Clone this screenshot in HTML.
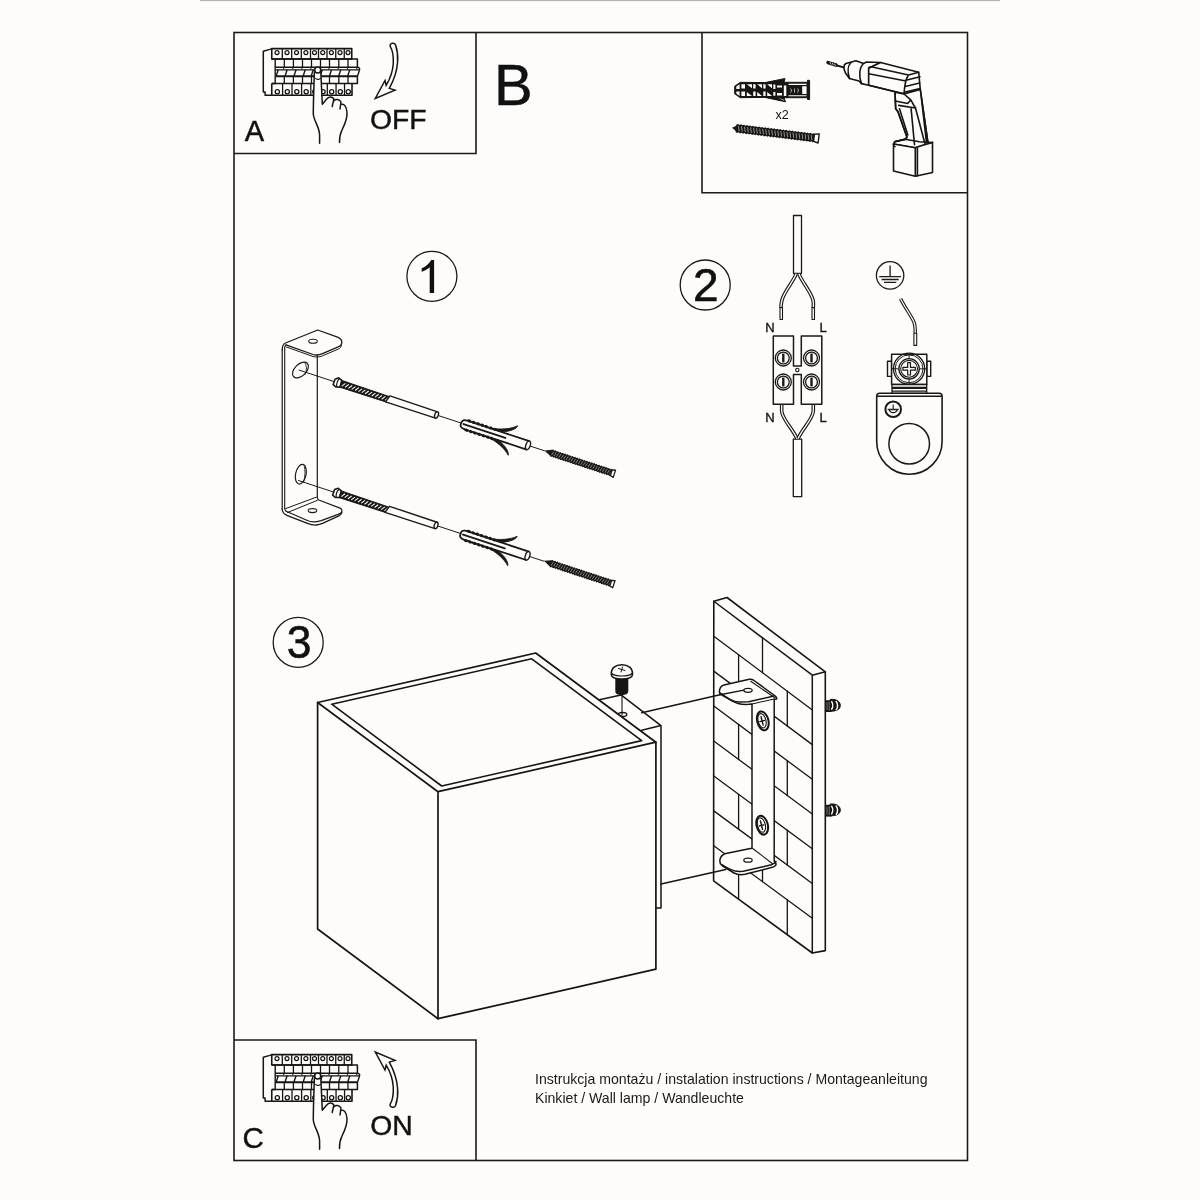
<!DOCTYPE html>
<html><head><meta charset="utf-8"><title>Wall lamp instructions</title>
<style>html,body{margin:0;padding:0;background:#fdfcfa;}svg{display:block;will-change:transform}</style></head>
<body><svg width="1200" height="1200" viewBox="0 0 1200 1200">
<rect width="1200" height="1200" fill="#fdfcfa"/>
<rect x="200" y="0" width="800" height="1.1" fill="#b3b2b0"/>
<g fill="none" stroke="#1c1b19" stroke-width="1.6">
<rect x="234" y="32.5" width="733.5" height="1128"/>
<path d="M234 153.5H476V32.5"/>
<path d="M702 32.5V192.8H967.5"/>
<path d="M234 1040H476V1160.5"/>
</g>
<g font-family="Liberation Sans, sans-serif" fill="#111" stroke="#111" stroke-width="0.45">
<text x="244.8" y="140.7" font-size="29">A</text>
<text x="242.6" y="1147.6" font-size="29.5">C</text>
<text x="370" y="128.6" font-size="28.3">OFF</text>
<text x="370.2" y="1134.6" font-size="28.3">ON</text>
<text x="494" y="104.5" font-size="58">B</text>
</g>
<g fill="none" stroke="#1a1a1a" stroke-width="1.3">
<circle cx="431.9" cy="276.3" r="25"/>
<circle cx="705.2" cy="285" r="25"/>
<circle cx="298.2" cy="642.4" r="25"/>
</g>
<path fill="#111" d="M434.1 259.9 V292.9 H429.7 V267.2 C427 269.5 424.5 270.8 421.7 271.8 V268.3 C425.5 266.8 429 263.8 431.2 259.9 Z"/>
<g font-family="Liberation Sans, sans-serif" fill="#111" stroke="#111" stroke-width="0.6">
<text x="693" y="301" font-size="46">2</text>
<text x="286" y="658.5" font-size="47" transform="translate(298.7 0) scale(0.945 1) translate(-298.7 0)">3</text>
</g>
<text font-family="Liberation Sans, sans-serif" fill="#111" x="775.5" y="118.7" font-size="12.5">x2</text>
<g font-family="Liberation Sans, sans-serif" fill="#1a1a1a" font-size="14.1">
<text x="535" y="1084.4">Instrukcja montażu / instalation instructions / Montageanleitung</text>
<text x="535" y="1102.5">Kinkiet / Wall lamp / Wandleuchte</text>
</g>
<g transform="translate(0,0)" fill="none" stroke="#161514" stroke-linejoin="round">
<path stroke-width="1.5" d="M271.75 48.6 L269.9 49.4 L263.3 51.3 V92.1 H265.1 V95.3 H271.75"/>
<path stroke-width="1.6" d="M271.75 48.6 H351.75 V59 H271.75 Z"/>
<path stroke-width="1.3" d="M282.3 48.6 V59"/>
<path stroke-width="1.3" d="M291.7 48.6 V59"/>
<path stroke-width="1.3" d="M301.3 48.6 V59"/>
<path stroke-width="1.3" d="M310.5 48.6 V59"/>
<path stroke-width="1.3" d="M318.5 48.6 V59"/>
<path stroke-width="1.3" d="M327 48.6 V59"/>
<path stroke-width="1.3" d="M335.75 48.6 V59"/>
<path stroke-width="1.3" d="M344.25 48.6 V59"/>
<circle stroke-width="1.2" cx="277.02" cy="52.6" r="2"/>
<circle stroke-width="1.2" cx="287.00" cy="52.6" r="2"/>
<circle stroke-width="1.2" cx="296.50" cy="52.6" r="2"/>
<circle stroke-width="1.2" cx="305.90" cy="52.6" r="2"/>
<circle stroke-width="1.2" cx="314.50" cy="52.6" r="2"/>
<circle stroke-width="1.2" cx="322.75" cy="52.6" r="2"/>
<circle stroke-width="1.2" cx="331.38" cy="52.6" r="2"/>
<circle stroke-width="1.2" cx="340.00" cy="52.6" r="2"/>
<circle stroke-width="1.2" cx="348.00" cy="52.6" r="2"/>
<path stroke-width="1.4" d="M271.75 59 H275.2 V83.5 H271.75"/>
<path stroke-width="1.5" d="M275.2 59 H357.4 V67.2 H275.2"/>
<path stroke-width="1.3" d="M284.3 59 V67.2"/>
<path stroke-width="1.3" d="M293.4 59 V67.2"/>
<path stroke-width="1.3" d="M302.5 59 V67.2"/>
<path stroke-width="1.3" d="M311.5 59 V67.2"/>
<path stroke-width="1.3" d="M320.5 59 V67.2"/>
<path stroke-width="1.3" d="M329.5 59 V67.2"/>
<path stroke-width="1.3" d="M338.8 59 V67.2"/>
<path stroke-width="1.3" d="M348 59 V67.2"/>
<path stroke-width="1.3" d="M275.5 69.8 H359.5"/>
<path stroke-width="2" d="M275.5 76.3 H357.4"/>
<path stroke-width="1.4" d="M357.4 67.2 C359.5 67.5 360 68.5 359.5 70 L357.5 76.3"/>
<path stroke-width="1.4" d="M278.2 69.8 L276.20 76"/>
<path stroke-width="1.4" d="M287.1 69.8 L285.10 76"/>
<path stroke-width="1.4" d="M296 69.8 L294.00 76"/>
<path stroke-width="1.4" d="M305.2 69.8 L303.20 76"/>
<path stroke-width="1.4" d="M313.25 69.8 L311.25 76"/>
<path stroke-width="1.4" d="M322.25 69.8 L320.25 76"/>
<path stroke-width="1.4" d="M331.5 69.8 L329.50 76"/>
<path stroke-width="1.4" d="M340.75 69.8 L338.75 76"/>
<path stroke-width="1.4" d="M349.75 69.8 L347.75 76"/>
<path stroke-width="1" d="M283.70 67.6 V69.4"/>
<path stroke-width="1" d="M292.80 67.6 V69.4"/>
<path stroke-width="1" d="M301.90 67.6 V69.4"/>
<path stroke-width="1" d="M310.90 67.6 V69.4"/>
<path stroke-width="1" d="M319.90 67.6 V69.4"/>
<path stroke-width="1" d="M328.90 67.6 V69.4"/>
<path stroke-width="1" d="M338.20 67.6 V69.4"/>
<path stroke-width="1" d="M347.40 67.6 V69.4"/>
<path stroke-width="1" d="M356.80 67.6 V69.4"/>
<path stroke-width="1.5" d="M357.4 76.3 V83.5 H271.75"/>
<path stroke-width="1.3" d="M284.3 76.3 V83.5"/>
<path stroke-width="1.3" d="M293.4 76.3 V83.5"/>
<path stroke-width="1.3" d="M302.5 76.3 V83.5"/>
<path stroke-width="1.3" d="M311.5 76.3 V83.5"/>
<path stroke-width="1.3" d="M320.5 76.3 V83.5"/>
<path stroke-width="1.3" d="M329.5 76.3 V83.5"/>
<path stroke-width="1.3" d="M338.8 76.3 V83.5"/>
<path stroke-width="1.3" d="M348 76.3 V83.5"/>
<path stroke-width="1.6" d="M271.75 83.5 V95.3 H352 V83.5"/>
<path stroke-width="1.3" d="M282.60 83.5 V95.3"/>
<path stroke-width="1.3" d="M292.00 83.5 V95.3"/>
<path stroke-width="1.3" d="M301.60 83.5 V95.3"/>
<path stroke-width="1.3" d="M310.80 83.5 V95.3"/>
<path stroke-width="1.3" d="M318.80 83.5 V95.3"/>
<path stroke-width="1.3" d="M327.30 83.5 V95.3"/>
<path stroke-width="1.3" d="M336.05 83.5 V95.3"/>
<path stroke-width="1.3" d="M344.55 83.5 V95.3"/>
<circle stroke-width="1.3" cx="277.32" cy="91.7" r="2.1"/>
<circle stroke-width="1.3" cx="287.30" cy="91.7" r="2.1"/>
<circle stroke-width="1.3" cx="296.80" cy="91.7" r="2.1"/>
<circle stroke-width="1.3" cx="306.20" cy="91.7" r="2.1"/>
<circle stroke-width="1.3" cx="314.80" cy="91.7" r="2.1"/>
<circle stroke-width="1.3" cx="323.05" cy="91.7" r="2.1"/>
<circle stroke-width="1.3" cx="331.68" cy="91.7" r="2.1"/>
<circle stroke-width="1.3" cx="340.30" cy="91.7" r="2.1"/>
<circle stroke-width="1.3" cx="348.30" cy="91.7" r="2.1"/>
</g>
<g transform="translate(0,0)" stroke="#161514" stroke-width="1.5" stroke-linecap="round" stroke-linejoin="round">
<path fill="#fdfcfa" stroke="none" d="M314.4 72 L313.3 114 C314.5 121 319 128 319.6 143.3 L339.5 142.5 C339.5 136 344 128 347 120 L347 112.5 C346 106 343 104.5 341 104 L334 99 C331 96 328 97 326.7 99 L322.3 104 L320.8 72 Z"/>
<path fill="none" d="M314.4 72 C314 85 313.3 100 313.3 114 C313.8 121 319.5 127 319.6 135 V143.3"/>
<path fill="none" d="M320.8 72 L322.3 104.3 L326.7 99 C328.5 96.5 332 96 333.9 99 L332.2 106.5"/>
<path fill="none" d="M334.2 100.6 C335.5 99 339.5 99 341 102 L340 109"/>
<path fill="none" d="M341.8 104.3 C344 104 346.5 106 347 112.5 C347.5 119 345 124 342 130 C340 134 339.4 138 339.5 142.5"/>
<circle fill="#fdfcfa" stroke-width="1.5" cx="317.7" cy="70.1" r="3"/>
<path fill="none" stroke-width="1.1" d="M315.6 78.3 C317 79.6 319 79.6 320.4 78.3"/>
</g>
<path fill="#fdfcfa" stroke="#161514" stroke-width="1.5" stroke-linejoin="miter" d="M392.4 43.3 C394.2 43.1 395.2 44 395.6 45 C397.6 51 398 57 397.6 62 C397 71 394.5 79 389.3 88.4 L395 90.1 L375.3 98.4 L385 80.5 L386.2 85.3 C390 79 392.8 71 393.3 63.5 C393.6 56 392.5 50 390.2 46.4 C389.6 44.8 390.6 43.5 392.4 43.3 Z"/>
<g transform="translate(0,1006)" fill="none" stroke="#161514" stroke-linejoin="round">
<path stroke-width="1.5" d="M271.75 48.6 L269.9 49.4 L263.3 51.3 V92.1 H265.1 V95.3 H271.75"/>
<path stroke-width="1.6" d="M271.75 48.6 H351.75 V59 H271.75 Z"/>
<path stroke-width="1.3" d="M282.3 48.6 V59"/>
<path stroke-width="1.3" d="M291.7 48.6 V59"/>
<path stroke-width="1.3" d="M301.3 48.6 V59"/>
<path stroke-width="1.3" d="M310.5 48.6 V59"/>
<path stroke-width="1.3" d="M318.5 48.6 V59"/>
<path stroke-width="1.3" d="M327 48.6 V59"/>
<path stroke-width="1.3" d="M335.75 48.6 V59"/>
<path stroke-width="1.3" d="M344.25 48.6 V59"/>
<circle stroke-width="1.2" cx="277.02" cy="52.6" r="2"/>
<circle stroke-width="1.2" cx="287.00" cy="52.6" r="2"/>
<circle stroke-width="1.2" cx="296.50" cy="52.6" r="2"/>
<circle stroke-width="1.2" cx="305.90" cy="52.6" r="2"/>
<circle stroke-width="1.2" cx="314.50" cy="52.6" r="2"/>
<circle stroke-width="1.2" cx="322.75" cy="52.6" r="2"/>
<circle stroke-width="1.2" cx="331.38" cy="52.6" r="2"/>
<circle stroke-width="1.2" cx="340.00" cy="52.6" r="2"/>
<circle stroke-width="1.2" cx="348.00" cy="52.6" r="2"/>
<path stroke-width="1.4" d="M271.75 59 H275.2 V83.5 H271.75"/>
<path stroke-width="1.5" d="M275.2 59 H357.4 V67.2 H275.2"/>
<path stroke-width="1.3" d="M284.3 59 V67.2"/>
<path stroke-width="1.3" d="M293.4 59 V67.2"/>
<path stroke-width="1.3" d="M302.5 59 V67.2"/>
<path stroke-width="1.3" d="M311.5 59 V67.2"/>
<path stroke-width="1.3" d="M320.5 59 V67.2"/>
<path stroke-width="1.3" d="M329.5 59 V67.2"/>
<path stroke-width="1.3" d="M338.8 59 V67.2"/>
<path stroke-width="1.3" d="M348 59 V67.2"/>
<path stroke-width="1.3" d="M275.5 69.8 H359.5"/>
<path stroke-width="2" d="M275.5 76.3 H357.4"/>
<path stroke-width="1.4" d="M357.4 67.2 C359.5 67.5 360 68.5 359.5 70 L357.5 76.3"/>
<path stroke-width="1.4" d="M278.2 69.8 L276.20 76"/>
<path stroke-width="1.4" d="M287.1 69.8 L285.10 76"/>
<path stroke-width="1.4" d="M296 69.8 L294.00 76"/>
<path stroke-width="1.4" d="M305.2 69.8 L303.20 76"/>
<path stroke-width="1.4" d="M313.25 69.8 L311.25 76"/>
<path stroke-width="1.4" d="M322.25 69.8 L320.25 76"/>
<path stroke-width="1.4" d="M331.5 69.8 L329.50 76"/>
<path stroke-width="1.4" d="M340.75 69.8 L338.75 76"/>
<path stroke-width="1.4" d="M349.75 69.8 L347.75 76"/>
<path stroke-width="1" d="M283.70 67.6 V69.4"/>
<path stroke-width="1" d="M292.80 67.6 V69.4"/>
<path stroke-width="1" d="M301.90 67.6 V69.4"/>
<path stroke-width="1" d="M310.90 67.6 V69.4"/>
<path stroke-width="1" d="M319.90 67.6 V69.4"/>
<path stroke-width="1" d="M328.90 67.6 V69.4"/>
<path stroke-width="1" d="M338.20 67.6 V69.4"/>
<path stroke-width="1" d="M347.40 67.6 V69.4"/>
<path stroke-width="1" d="M356.80 67.6 V69.4"/>
<path stroke-width="1.5" d="M357.4 76.3 V83.5 H271.75"/>
<path stroke-width="1.3" d="M284.3 76.3 V83.5"/>
<path stroke-width="1.3" d="M293.4 76.3 V83.5"/>
<path stroke-width="1.3" d="M302.5 76.3 V83.5"/>
<path stroke-width="1.3" d="M311.5 76.3 V83.5"/>
<path stroke-width="1.3" d="M320.5 76.3 V83.5"/>
<path stroke-width="1.3" d="M329.5 76.3 V83.5"/>
<path stroke-width="1.3" d="M338.8 76.3 V83.5"/>
<path stroke-width="1.3" d="M348 76.3 V83.5"/>
<path stroke-width="1.6" d="M271.75 83.5 V95.3 H352 V83.5"/>
<path stroke-width="1.3" d="M282.60 83.5 V95.3"/>
<path stroke-width="1.3" d="M292.00 83.5 V95.3"/>
<path stroke-width="1.3" d="M301.60 83.5 V95.3"/>
<path stroke-width="1.3" d="M310.80 83.5 V95.3"/>
<path stroke-width="1.3" d="M318.80 83.5 V95.3"/>
<path stroke-width="1.3" d="M327.30 83.5 V95.3"/>
<path stroke-width="1.3" d="M336.05 83.5 V95.3"/>
<path stroke-width="1.3" d="M344.55 83.5 V95.3"/>
<circle stroke-width="1.3" cx="277.32" cy="91.7" r="2.1"/>
<circle stroke-width="1.3" cx="287.30" cy="91.7" r="2.1"/>
<circle stroke-width="1.3" cx="296.80" cy="91.7" r="2.1"/>
<circle stroke-width="1.3" cx="306.20" cy="91.7" r="2.1"/>
<circle stroke-width="1.3" cx="314.80" cy="91.7" r="2.1"/>
<circle stroke-width="1.3" cx="323.05" cy="91.7" r="2.1"/>
<circle stroke-width="1.3" cx="331.68" cy="91.7" r="2.1"/>
<circle stroke-width="1.3" cx="340.30" cy="91.7" r="2.1"/>
<circle stroke-width="1.3" cx="348.30" cy="91.7" r="2.1"/>
</g>
<g transform="translate(0,1006)" stroke="#161514" stroke-width="1.5" stroke-linecap="round" stroke-linejoin="round">
<path fill="#fdfcfa" stroke="none" d="M314.4 72 L313.3 114 C314.5 121 319 128 319.6 143.3 L339.5 142.5 C339.5 136 344 128 347 120 L347 112.5 C346 106 343 104.5 341 104 L334 99 C331 96 328 97 326.7 99 L322.3 104 L320.8 72 Z"/>
<path fill="none" d="M314.4 72 C314 85 313.3 100 313.3 114 C313.8 121 319.5 127 319.6 135 V143.3"/>
<path fill="none" d="M320.8 72 L322.3 104.3 L326.7 99 C328.5 96.5 332 96 333.9 99 L332.2 106.5"/>
<path fill="none" d="M334.2 100.6 C335.5 99 339.5 99 341 102 L340 109"/>
<path fill="none" d="M341.8 104.3 C344 104 346.5 106 347 112.5 C347.5 119 345 124 342 130 C340 134 339.4 138 339.5 142.5"/>
<circle fill="#fdfcfa" stroke-width="1.5" cx="317.7" cy="70.1" r="3"/>
<path fill="none" stroke-width="1.1" d="M315.6 78.3 C317 79.6 319 79.6 320.4 78.3"/>
</g>
<g transform="translate(0,1150.5) scale(1,-1)"><path fill="#fdfcfa" stroke="#161514" stroke-width="1.5" stroke-linejoin="miter" d="M392.4 43.3 C394.2 43.1 395.2 44 395.6 45 C397.6 51 398 57 397.6 62 C397 71 394.5 79 389.3 88.4 L395 90.1 L375.3 98.4 L385 80.5 L386.2 85.3 C390 79 392.8 71 393.3 63.5 C393.6 56 392.5 50 390.2 46.4 C389.6 44.8 390.6 43.5 392.4 43.3 Z"/></g>
<path fill="#161514" stroke="#161514" stroke-width="1" stroke-linejoin="round" d="M740.3 82.3 L765 82.6 L785 78.5 L784 82.3 L807.5 82.3 V80.3 H809.6 V99.5 H807.5 V97.7 L784 97.7 L785.5 101.8 L765 97.4 L740.3 97.7 L734.7 93.8 V86.2 Z"/>
<path fill="#fdfcfa" d="M736.3 86.6 L739.6 84.2 V88.9 H736.3 Z M736.3 91.4 H739.6 V96 L736.3 93.5 Z"/>
<path fill="#fdfcfa" d="M741.4 84.2 H745.0 V88.6 H741.4 Z M741.4 91.6 H745.0 V95.9 H741.4 Z"/>
<path fill="#fdfcfa" d="M753.2 84.2 H755.6 V88.6 H753.2 Z M753.2 91.6 H755.6 V95.9 H753.2 Z"/>
<path fill="#fdfcfa" d="M763.3 84.2 H765.6 V88.6 H763.3 Z M763.3 91.6 H765.6 V95.9 H763.3 Z"/>
<path fill="#fdfcfa" d="M746.8 84.3 H752.0 V88.3 Z M746.8 92.0 L752.0 95.9 H746.8 Z"/>
<path fill="#fdfcfa" d="M757.2 84.3 H762.0 V88.3 Z M757.2 92.0 L762.0 95.9 H757.2 Z"/>
<path fill="#fdfcfa" d="M767.2 84.3 H772.0 V88.3 Z M767.2 92.0 L772.0 95.9 H767.2 Z"/>
<path fill="#fdfcfa" d="M773.3 84.6 H775.4 V89 H773.3 Z M773.3 92 H775.4 V95.8 H773.3 Z M777 85.6 H782 V87.6 H777 Z M777 93 H782 V95.6 H777 Z M783.8 85.6 H786.3 V95.9 H783.8 Z"/>
<path fill="#fdfcfa" d="M788.5 83.8 H806.5 V84.9 H788.5 Z M788.5 95.3 H806.5 V96.3 H788.5 Z M802.2 86.3 H806.6 V94 H802.2 Z"/>
<path fill="#fdfcfa" d="M790.3 87.8 C792.0999999999999 89 792.0999999999999 92 790.3 93.4 C791.0999999999999 92 791.0999999999999 89 790.3 87.8 Z"/>
<path fill="#fdfcfa" d="M793.8 87.8 C795.5999999999999 89 795.5999999999999 92 793.8 93.4 C794.5999999999999 92 794.5999999999999 89 793.8 87.8 Z"/>
<path fill="#fdfcfa" d="M797.3 87.8 C799.0999999999999 89 799.0999999999999 92 797.3 93.4 C798.0999999999999 92 798.0999999999999 89 797.3 87.8 Z"/>
<path fill="#fdfcfa" stroke="none" d="M778 97.8 L784.3 100.8 L783.8 99.8 L777.5 97.6 Z"/>
<g transform="translate(732,127.8) rotate(7)"><path fill="#161514" d="M0 0 L5 -3.2 L5 3.2 Z"/><path fill="#161514" d="M4 -3.7 L5.50 -4.6 L7.05 -3.7 L8.55 -4.6 L10.10 -3.7 L11.60 -4.6 L13.15 -3.7 L14.65 -4.6 L16.20 -3.7 L17.70 -4.6 L19.25 -3.7 L20.75 -4.6 L22.30 -3.7 L23.80 -4.6 L25.35 -3.7 L26.85 -4.6 L28.40 -3.7 L29.90 -4.6 L31.45 -3.7 L32.95 -4.6 L34.50 -3.7 L36.00 -4.6 L37.55 -3.7 L39.05 -4.6 L40.60 -3.7 L42.10 -4.6 L43.65 -3.7 L45.15 -4.6 L46.70 -3.7 L48.20 -4.6 L49.75 -3.7 L51.25 -4.6 L52.80 -3.7 L54.30 -4.6 L55.85 -3.7 L57.35 -4.6 L58.90 -3.7 L60.40 -4.6 L61.95 -3.7 L63.45 -4.6 L65.00 -3.7 L66.50 -4.6 L68.05 -3.7 L69.55 -4.6 L71.10 -3.7 L72.60 -4.6 L74.15 -3.7 L75.65 -4.6 L77.20 -3.7 L78.70 -4.6 L80.25 -3.7 L81.75 -4.6 L83.30 -3.7 L83.3 -3.7 L83.3 3.7 L81.80 4.6 L80.25 3.7 L78.75 4.6 L77.20 3.7 L75.70 4.6 L74.15 3.7 L72.65 4.6 L71.10 3.7 L69.60 4.6 L68.05 3.7 L66.55 4.6 L65.00 3.7 L63.50 4.6 L61.95 3.7 L60.45 4.6 L58.90 3.7 L57.40 4.6 L55.85 3.7 L54.35 4.6 L52.80 3.7 L51.30 4.6 L49.75 3.7 L48.25 4.6 L46.70 3.7 L45.20 4.6 L43.65 3.7 L42.15 4.6 L40.60 3.7 L39.10 4.6 L37.55 3.7 L36.05 4.6 L34.50 3.7 L33.00 4.6 L31.45 3.7 L29.95 4.6 L28.40 3.7 L26.90 4.6 L25.35 3.7 L23.85 4.6 L22.30 3.7 L20.80 4.6 L19.25 3.7 L17.75 4.6 L16.20 3.7 L14.70 4.6 L13.15 3.7 L11.65 4.6 L10.10 3.7 L8.60 4.6 L7.05 3.7 L5.55 4.6 L4.00 3.7 Z"/><path stroke="#fdfcfa" stroke-opacity="0.8" stroke-width="0.65" d="M6.20 -2.6 L7.60 2.6"/><path stroke="#fdfcfa" stroke-opacity="0.8" stroke-width="0.65" d="M9.25 -2.6 L10.65 2.6"/><path stroke="#fdfcfa" stroke-opacity="0.8" stroke-width="0.65" d="M12.30 -2.6 L13.70 2.6"/><path stroke="#fdfcfa" stroke-opacity="0.8" stroke-width="0.65" d="M15.35 -2.6 L16.75 2.6"/><path stroke="#fdfcfa" stroke-opacity="0.8" stroke-width="0.65" d="M18.40 -2.6 L19.80 2.6"/><path stroke="#fdfcfa" stroke-opacity="0.8" stroke-width="0.65" d="M21.45 -2.6 L22.85 2.6"/><path stroke="#fdfcfa" stroke-opacity="0.8" stroke-width="0.65" d="M24.50 -2.6 L25.90 2.6"/><path stroke="#fdfcfa" stroke-opacity="0.8" stroke-width="0.65" d="M27.55 -2.6 L28.95 2.6"/><path stroke="#fdfcfa" stroke-opacity="0.8" stroke-width="0.65" d="M30.60 -2.6 L32.00 2.6"/><path stroke="#fdfcfa" stroke-opacity="0.8" stroke-width="0.65" d="M33.65 -2.6 L35.05 2.6"/><path stroke="#fdfcfa" stroke-opacity="0.8" stroke-width="0.65" d="M36.70 -2.6 L38.10 2.6"/><path stroke="#fdfcfa" stroke-opacity="0.8" stroke-width="0.65" d="M39.75 -2.6 L41.15 2.6"/><path stroke="#fdfcfa" stroke-opacity="0.8" stroke-width="0.65" d="M42.80 -2.6 L44.20 2.6"/><path stroke="#fdfcfa" stroke-opacity="0.8" stroke-width="0.65" d="M45.85 -2.6 L47.25 2.6"/><path stroke="#fdfcfa" stroke-opacity="0.8" stroke-width="0.65" d="M48.90 -2.6 L50.30 2.6"/><path stroke="#fdfcfa" stroke-opacity="0.8" stroke-width="0.65" d="M51.95 -2.6 L53.35 2.6"/><path stroke="#fdfcfa" stroke-opacity="0.8" stroke-width="0.65" d="M55.00 -2.6 L56.40 2.6"/><path stroke="#fdfcfa" stroke-opacity="0.8" stroke-width="0.65" d="M58.05 -2.6 L59.45 2.6"/><path stroke="#fdfcfa" stroke-opacity="0.8" stroke-width="0.65" d="M61.10 -2.6 L62.50 2.6"/><path stroke="#fdfcfa" stroke-opacity="0.8" stroke-width="0.65" d="M64.15 -2.6 L65.55 2.6"/><path stroke="#fdfcfa" stroke-opacity="0.8" stroke-width="0.65" d="M67.20 -2.6 L68.60 2.6"/><path stroke="#fdfcfa" stroke-opacity="0.8" stroke-width="0.65" d="M70.25 -2.6 L71.65 2.6"/><path stroke="#fdfcfa" stroke-opacity="0.8" stroke-width="0.65" d="M73.30 -2.6 L74.70 2.6"/><path stroke="#fdfcfa" stroke-opacity="0.8" stroke-width="0.65" d="M76.35 -2.6 L77.75 2.6"/><path stroke="#fdfcfa" stroke-opacity="0.8" stroke-width="0.65" d="M79.40 -2.6 L80.80 2.6"/><path stroke="#fdfcfa" stroke-opacity="0.8" stroke-width="0.65" d="M82.45 -2.6 L83.85 2.6"/><path fill="#fdfcfa" stroke="#161514" stroke-width="1.4" stroke-linejoin="round" d="M82.6 -3.6 L87.3 -4.6 V4.6 L82.6 3.6 Z"/></g>
<g fill="none" stroke="#161514" stroke-width="1.6" stroke-linejoin="round" stroke-linecap="round">
<path stroke-width="3.4" d="M828 62.6 L836 65"/>
<path stroke-width="2" d="M836 65.2 L844.5 67.6"/>
<path stroke="#fdfcfa" stroke-width="0.7" d="M830 62.5 L831 64.2 M832.3 63.2 L833.3 64.9 M834.5 63.9 L835.4 65.6"/>
<path fill="#fdfcfa" d="M844 69 L844.3 64.8 L846 63.5 L856 60.75 L863.5 63.5 L866.5 62 L880.5 62.5 L868.7 68.3 V85.2 L861.5 83.6 L859 81 L849.5 78.5 L845.5 73 Z"/>
<path d="M851 62.5 C847.8 65.5 847.3 72 849.5 78.5"/>
<path d="M863.5 63.5 C859.3 67.5 858.5 76 861.5 83.6"/>
<path fill="#fdfcfa" d="M868.7 68.3 L880.5 62.5 L918.7 72.3 L920.3 89.5 L904 94 L868.7 85.2 Z"/>
<path d="M868.8 68.3 C869 67.3 869.8 66.8 871 66.8 L908.5 75 L918.7 72.3 M868.8 73.7 L904.5 80.8 M868.8 85.2 L904 93.8 M908.5 75 C905.5 79 904.5 86 904 94 M905 80.5 L920 76.8 M905.3 86.5 L919.6 83 M904.2 92.2 L920 88.6"/>
<path fill="#fdfcfa" d="M904 94 L895 92.3 L895.7 108.7 L898 111.8 L907 137.3 L904.8 139.4 L894.6 141.8 L893.5 144 L915.3 147.8 L932.5 142.5 L928 143.2 L920.3 89.5 Z"/>
<path d="M895 92.3 L895.7 108.7 L898 111.8 L907 137.3 L904.8 139.4 L894.6 141.8"/>
<path d="M899.5 108.7 L907.8 135 M911.1 108.7 L914.5 144.7 M915.3 107.3 L925 144 M920.3 89.5 L928 143.2 M921.3 97.5 L926.5 142.5"/>
<path d="M898.7 105.4 L915.3 108 L910.8 99.8 L907.7 103.5 L895.2 101 M904 94 L910.8 99.8"/>
<path fill="#fdfcfa" d="M893.5 144 V171 L915.3 176.3 L932.5 172.5 V142.5 L922 145.5 L915.3 147.8 Z"/>
<path d="M894.6 141.8 L904.8 139.3 L919.5 141.8 L932.5 142.5 M915.3 147.8 V176.3 M917.4 148.3 V176 M893.5 144 C893.5 146 894 146.5 895 146.7"/>
</g>
<g fill="none" stroke="#1a1918" stroke-linejoin="round" stroke-linecap="round">
<path stroke-width="1.2" d="M282.2 350 V509"/>
<path stroke-width="1.1" d="M284.7 347.5 V508.5"/>
<path stroke-width="1.2" d="M317.3 355.5 V497.5"/>
<path stroke-width="1.3" d="M282.2 350 C282.2 346 283 344 285.5 343 L317.7 330 L337.5 337.2 C341 338.6 342.3 340.5 341.7 343.3 C341.3 345 340.5 346 338.8 346.6 L322.5 353.7 C319 355.2 316 355.4 313 354.5 L286 344.8"/>
<path stroke-width="1.1" d="M284.7 347.5 C284.8 346.5 285.2 345.5 286 344.8"/>
<path stroke-width="1" d="M341.5 345 C341 347.5 340 348.5 338.5 349 L322.5 355.8 C319 357.2 316 357.3 313 356.5 L286.5 347"/>
<ellipse stroke-width="1.1" cx="313" cy="341.3" rx="4.3" ry="2"/>
<path stroke-width="1.3" d="M282.2 509 C282.3 512.5 284.5 514.6 287.5 515.6 L307.5 523.4 C311 524.8 314 525.2 316.5 525 C318.5 524.8 320.5 524.2 322.5 523.4 L339.4 515.6 C341 514.8 341.8 513.8 341.9 512.3"/>
<path stroke-width="1.2" d="M286.2 511.3 L306.2 520 C309 521.2 311.5 521.9 313.8 521.9 C316.5 521.9 318.8 521.3 321.2 520.6 L338.1 514.4 C341 513.2 342.2 512 341.9 510.5 C341.7 509.2 340.8 508.5 340 508.1 L318.8 500 C318 499.6 317.5 499 317.3 497.5"/>
<path stroke-width="1.1" d="M284.7 508.5 C284.9 510 285.4 510.8 286.2 511.3"/>
<path stroke-width="1" d="M285.6 508.6 L316.3 497.2 M287.5 512.5 L317.5 500.3"/>
<ellipse stroke-width="1.1" cx="312.5" cy="510.6" rx="4.3" ry="2"/>
</g>
<g fill="none" stroke="#1a1918" stroke-width="1.2">
<ellipse cx="300.5" cy="370" rx="5.8" ry="9.6" transform="rotate(45 300.5 370)"/>
<path stroke-width="0.9" d="M304.6 362.3 C306.8 365 307 370.5 305.2 374.5"/>
</g>
<g transform="translate(336.7,382.45) rotate(18.2)"><path stroke="#1a1918" stroke-width="0.9" d="M-40 0 H-2 M104 -0.3 H131 M200 0 H219"/><path fill="#fdfcfa" stroke="#1a1918" stroke-width="1.6" stroke-linejoin="round" d="M-2.6 -2.6 L0.5 -5 L4.2 -3.6 L4.6 3.4 L0.8 4.6 L-2.7 3.3 Z"/><path fill="none" stroke="#1a1918" stroke-width="1.2" d="M1.5 -4.3 C0 -2 0 2 1.5 4.3"/><path fill="#1a1918" stroke="#1a1918" stroke-width="1" d="M4.3 -3.4 L53.5 -3 L53.5 3.2 L4.5 3.6 Z"/><path stroke="#fdfcfa" stroke-width="1.05" d="M6.00 1.9 L8.60 -1.9"/><path stroke="#fdfcfa" stroke-width="1.05" d="M9.50 1.9 L12.10 -1.9"/><path stroke="#fdfcfa" stroke-width="1.05" d="M13.00 1.9 L15.60 -1.9"/><path stroke="#fdfcfa" stroke-width="1.05" d="M16.50 1.9 L19.10 -1.9"/><path stroke="#fdfcfa" stroke-width="1.05" d="M20.00 1.9 L22.60 -1.9"/><path stroke="#fdfcfa" stroke-width="1.05" d="M23.50 1.9 L26.10 -1.9"/><path stroke="#fdfcfa" stroke-width="1.05" d="M27.00 1.9 L29.60 -1.9"/><path stroke="#fdfcfa" stroke-width="1.05" d="M30.50 1.9 L33.10 -1.9"/><path stroke="#fdfcfa" stroke-width="1.05" d="M34.00 1.9 L36.60 -1.9"/><path stroke="#fdfcfa" stroke-width="1.05" d="M37.50 1.9 L40.10 -1.9"/><path stroke="#fdfcfa" stroke-width="1.05" d="M41.00 1.9 L43.60 -1.9"/><path stroke="#fdfcfa" stroke-width="1.05" d="M44.50 1.9 L47.10 -1.9"/><path stroke="#fdfcfa" stroke-width="1.05" d="M48.00 1.9 L50.60 -1.9"/><path stroke="#fdfcfa" stroke-width="1.05" d="M51.50 1.9 L54.10 -1.9"/><path fill="#fdfcfa" stroke="#1a1918" stroke-width="1.4" stroke-linejoin="round" d="M52.5 3.2 L54.8 -3.9 L105 -3.6 L105 3.0 Z"/><ellipse fill="#fdfcfa" stroke="#1a1918" stroke-width="1.4" cx="105" cy="-0.3" rx="1.8" ry="3.3"/><path fill="#fdfcfa" stroke="#1a1918" stroke-width="1.8" stroke-linejoin="round" d="M131 0 C130.5 -2.5 132 -4.2 134.5 -4.4 L136.0 -4.4 C137.2 -5.8 138.8 -5.8 140.0 -4.4 L140.5 -4.4 C141.7 -5.8 143.3 -5.8 144.5 -4.4 L145.0 -4.4 C146.2 -5.8 147.8 -5.8 149.0 -4.4 L149.5 -4.4 C150.7 -5.8 152.3 -5.8 153.5 -4.4 L154.0 -4.4 C155.2 -5.8 156.8 -5.8 158.0 -4.4 L158.5 -4.4 C159.7 -5.8 161.3 -5.8 162.5 -4.4 L163.0 -4.4 C164.2 -5.8 165.8 -5.8 167.0 -4.4 L168 -4.4 L201.4 -4.4 L201.4 4.4 L168 4.4 L167.0 4.4 C165.8 5.8 164.2 5.8 163.0 4.4 L162.5 4.4 C161.3 5.8 159.7 5.8 158.5 4.4 L158.0 4.4 C156.8 5.8 155.2 5.8 154.0 4.4 L153.5 4.4 C152.3 5.8 150.7 5.8 149.5 4.4 L149.0 4.4 C147.8 5.8 146.2 5.8 145.0 4.4 L144.5 4.4 C143.3 5.8 141.7 5.8 140.5 4.4 L140.0 4.4 C138.8 5.8 137.2 5.8 136.0 4.4 L134.5 4.4 C132 4.2 130.5 2.5 131 0 Z"/><path stroke="#1a1918" stroke-width="2" stroke-linecap="round" d="M133.5 0 L177.5 0"/><ellipse fill="#1a1918" cx="138.0" cy="-4.5" rx="1.7" ry="1.3"/><ellipse fill="#1a1918" cx="138.0" cy="4.5" rx="1.7" ry="1.3"/><ellipse fill="#1a1918" cx="142.5" cy="-4.5" rx="1.7" ry="1.3"/><ellipse fill="#1a1918" cx="142.5" cy="4.5" rx="1.7" ry="1.3"/><ellipse fill="#1a1918" cx="147.0" cy="-4.5" rx="1.7" ry="1.3"/><ellipse fill="#1a1918" cx="147.0" cy="4.5" rx="1.7" ry="1.3"/><ellipse fill="#1a1918" cx="151.5" cy="-4.5" rx="1.7" ry="1.3"/><ellipse fill="#1a1918" cx="151.5" cy="4.5" rx="1.7" ry="1.3"/><ellipse fill="#1a1918" cx="156.0" cy="-4.5" rx="1.7" ry="1.3"/><ellipse fill="#1a1918" cx="156.0" cy="4.5" rx="1.7" ry="1.3"/><ellipse fill="#1a1918" cx="160.5" cy="-4.5" rx="1.7" ry="1.3"/><ellipse fill="#1a1918" cx="160.5" cy="4.5" rx="1.7" ry="1.3"/><ellipse fill="#1a1918" cx="165.0" cy="-4.5" rx="1.7" ry="1.3"/><ellipse fill="#1a1918" cx="165.0" cy="4.5" rx="1.7" ry="1.3"/><path fill="#1a1918" stroke="#1a1918" stroke-width="0.8" d="M160 -4.6 C170 -6 180 -10 185.5 -15.4 C185.5 -12 180 -7.5 172 -4.5 Z"/><path fill="#1a1918" stroke="#1a1918" stroke-width="0.8" d="M160 4.6 C170 6 180 10 185.7 15.6 C185.5 12 180 7.5 172 4.5 Z"/><ellipse fill="#fdfcfa" stroke="#1a1918" stroke-width="1.4" cx="201.4" cy="0" rx="2.2" ry="4.4"/><path fill="#1a1918" d="M218.5 -0.3 L225.5 -3.2 L226.77 -3.9 L228.05 -3 L229.32 -3.9 L230.60 -3 L231.87 -3.9 L233.15 -3 L234.42 -3.9 L235.70 -3 L236.97 -3.9 L238.25 -3 L239.52 -3.9 L240.80 -3 L242.07 -3.9 L243.35 -3 L244.62 -3.9 L245.90 -3 L247.17 -3.9 L248.45 -3 L249.72 -3.9 L251.00 -3 L252.27 -3.9 L253.55 -3 L254.82 -3.9 L256.10 -3 L257.37 -3.9 L258.65 -3 L259.92 -3.9 L261.20 -3 L262.47 -3.9 L263.75 -3 L265.02 -3.9 L266.30 -3 L267.57 -3.9 L268.85 -3 L270.12 -3.9 L271.40 -3 L272.67 -3.9 L273.95 -3 L275.22 -3.9 L276.50 -3 L277.77 -3.9 L279.05 -3 L280.32 -3.9 L281.60 -3 L282.87 -3.9 L284.15 -3 L285.42 -3.9 L286.70 -3 L287.97 -3.9 L289.25 -3 L290.52 -3.9 L291.80 -3 L290.53 3.9 L289.25 3 L287.98 3.9 L286.70 3 L285.43 3.9 L284.15 3 L282.88 3.9 L281.60 3 L280.33 3.9 L279.05 3 L277.78 3.9 L276.50 3 L275.23 3.9 L273.95 3 L272.68 3.9 L271.40 3 L270.13 3.9 L268.85 3 L267.58 3.9 L266.30 3 L265.03 3.9 L263.75 3 L262.48 3.9 L261.20 3 L259.93 3.9 L258.65 3 L257.38 3.9 L256.10 3 L254.83 3.9 L253.55 3 L252.28 3.9 L251.00 3 L249.73 3.9 L248.45 3 L247.18 3.9 L245.90 3 L244.63 3.9 L243.35 3 L242.08 3.9 L240.80 3 L239.53 3.9 L238.25 3 L236.98 3.9 L235.70 3 L234.43 3.9 L233.15 3 L231.88 3.9 L230.60 3 L229.33 3.9 L228.05 3 L226.78 3.9 L225.50 3 Z"/><path stroke="#fdfcfa" stroke-opacity="0.75" stroke-width="0.55" d="M226.80 2 L227.80 -2"/><path stroke="#fdfcfa" stroke-opacity="0.75" stroke-width="0.55" d="M229.35 2 L230.35 -2"/><path stroke="#fdfcfa" stroke-opacity="0.75" stroke-width="0.55" d="M231.90 2 L232.90 -2"/><path stroke="#fdfcfa" stroke-opacity="0.75" stroke-width="0.55" d="M234.45 2 L235.45 -2"/><path stroke="#fdfcfa" stroke-opacity="0.75" stroke-width="0.55" d="M237.00 2 L238.00 -2"/><path stroke="#fdfcfa" stroke-opacity="0.75" stroke-width="0.55" d="M239.55 2 L240.55 -2"/><path stroke="#fdfcfa" stroke-opacity="0.75" stroke-width="0.55" d="M242.10 2 L243.10 -2"/><path stroke="#fdfcfa" stroke-opacity="0.75" stroke-width="0.55" d="M244.65 2 L245.65 -2"/><path stroke="#fdfcfa" stroke-opacity="0.75" stroke-width="0.55" d="M247.20 2 L248.20 -2"/><path stroke="#fdfcfa" stroke-opacity="0.75" stroke-width="0.55" d="M249.75 2 L250.75 -2"/><path stroke="#fdfcfa" stroke-opacity="0.75" stroke-width="0.55" d="M252.30 2 L253.30 -2"/><path stroke="#fdfcfa" stroke-opacity="0.75" stroke-width="0.55" d="M254.85 2 L255.85 -2"/><path stroke="#fdfcfa" stroke-opacity="0.75" stroke-width="0.55" d="M257.40 2 L258.40 -2"/><path stroke="#fdfcfa" stroke-opacity="0.75" stroke-width="0.55" d="M259.95 2 L260.95 -2"/><path stroke="#fdfcfa" stroke-opacity="0.75" stroke-width="0.55" d="M262.50 2 L263.50 -2"/><path stroke="#fdfcfa" stroke-opacity="0.75" stroke-width="0.55" d="M265.05 2 L266.05 -2"/><path stroke="#fdfcfa" stroke-opacity="0.75" stroke-width="0.55" d="M267.60 2 L268.60 -2"/><path stroke="#fdfcfa" stroke-opacity="0.75" stroke-width="0.55" d="M270.15 2 L271.15 -2"/><path stroke="#fdfcfa" stroke-opacity="0.75" stroke-width="0.55" d="M272.70 2 L273.70 -2"/><path stroke="#fdfcfa" stroke-opacity="0.75" stroke-width="0.55" d="M275.25 2 L276.25 -2"/><path stroke="#fdfcfa" stroke-opacity="0.75" stroke-width="0.55" d="M277.80 2 L278.80 -2"/><path stroke="#fdfcfa" stroke-opacity="0.75" stroke-width="0.55" d="M280.35 2 L281.35 -2"/><path stroke="#fdfcfa" stroke-opacity="0.75" stroke-width="0.55" d="M282.90 2 L283.90 -2"/><path stroke="#fdfcfa" stroke-opacity="0.75" stroke-width="0.55" d="M285.45 2 L286.45 -2"/><path stroke="#fdfcfa" stroke-opacity="0.75" stroke-width="0.55" d="M288.00 2 L289.00 -2"/><path stroke="#fdfcfa" stroke-opacity="0.75" stroke-width="0.55" d="M290.55 2 L291.55 -2"/><path fill="#fdfcfa" stroke="#1a1918" stroke-width="1.3" stroke-linejoin="round" d="M289 -2.9 L292.3 -3.8 V3.8 L289 2.9 Z"/></g>
<g fill="none" stroke="#1a1918" stroke-width="1.2">
<ellipse cx="300.8" cy="474.2" rx="5.2" ry="10" transform="rotate(12 300.8 474.2)"/>
<path stroke-width="0.9" d="M304.2 466.5 C305.5 470 305.3 476.5 303.5 482.5"/>
</g>
<g transform="translate(336.2,492.9) rotate(18.2)"><path stroke="#1a1918" stroke-width="0.9" d="M-40 0 H-2 M104 -0.3 H131 M200 0 H219"/><path fill="#fdfcfa" stroke="#1a1918" stroke-width="1.6" stroke-linejoin="round" d="M-2.6 -2.6 L0.5 -5 L4.2 -3.6 L4.6 3.4 L0.8 4.6 L-2.7 3.3 Z"/><path fill="none" stroke="#1a1918" stroke-width="1.2" d="M1.5 -4.3 C0 -2 0 2 1.5 4.3"/><path fill="#1a1918" stroke="#1a1918" stroke-width="1" d="M4.3 -3.4 L53.5 -3 L53.5 3.2 L4.5 3.6 Z"/><path stroke="#fdfcfa" stroke-width="1.05" d="M6.00 1.9 L8.60 -1.9"/><path stroke="#fdfcfa" stroke-width="1.05" d="M9.50 1.9 L12.10 -1.9"/><path stroke="#fdfcfa" stroke-width="1.05" d="M13.00 1.9 L15.60 -1.9"/><path stroke="#fdfcfa" stroke-width="1.05" d="M16.50 1.9 L19.10 -1.9"/><path stroke="#fdfcfa" stroke-width="1.05" d="M20.00 1.9 L22.60 -1.9"/><path stroke="#fdfcfa" stroke-width="1.05" d="M23.50 1.9 L26.10 -1.9"/><path stroke="#fdfcfa" stroke-width="1.05" d="M27.00 1.9 L29.60 -1.9"/><path stroke="#fdfcfa" stroke-width="1.05" d="M30.50 1.9 L33.10 -1.9"/><path stroke="#fdfcfa" stroke-width="1.05" d="M34.00 1.9 L36.60 -1.9"/><path stroke="#fdfcfa" stroke-width="1.05" d="M37.50 1.9 L40.10 -1.9"/><path stroke="#fdfcfa" stroke-width="1.05" d="M41.00 1.9 L43.60 -1.9"/><path stroke="#fdfcfa" stroke-width="1.05" d="M44.50 1.9 L47.10 -1.9"/><path stroke="#fdfcfa" stroke-width="1.05" d="M48.00 1.9 L50.60 -1.9"/><path stroke="#fdfcfa" stroke-width="1.05" d="M51.50 1.9 L54.10 -1.9"/><path fill="#fdfcfa" stroke="#1a1918" stroke-width="1.4" stroke-linejoin="round" d="M52.5 3.2 L54.8 -3.9 L105 -3.6 L105 3.0 Z"/><ellipse fill="#fdfcfa" stroke="#1a1918" stroke-width="1.4" cx="105" cy="-0.3" rx="1.8" ry="3.3"/><path fill="#fdfcfa" stroke="#1a1918" stroke-width="1.8" stroke-linejoin="round" d="M131 0 C130.5 -2.5 132 -4.2 134.5 -4.4 L136.0 -4.4 C137.2 -5.8 138.8 -5.8 140.0 -4.4 L140.5 -4.4 C141.7 -5.8 143.3 -5.8 144.5 -4.4 L145.0 -4.4 C146.2 -5.8 147.8 -5.8 149.0 -4.4 L149.5 -4.4 C150.7 -5.8 152.3 -5.8 153.5 -4.4 L154.0 -4.4 C155.2 -5.8 156.8 -5.8 158.0 -4.4 L158.5 -4.4 C159.7 -5.8 161.3 -5.8 162.5 -4.4 L163.0 -4.4 C164.2 -5.8 165.8 -5.8 167.0 -4.4 L168 -4.4 L201.4 -4.4 L201.4 4.4 L168 4.4 L167.0 4.4 C165.8 5.8 164.2 5.8 163.0 4.4 L162.5 4.4 C161.3 5.8 159.7 5.8 158.5 4.4 L158.0 4.4 C156.8 5.8 155.2 5.8 154.0 4.4 L153.5 4.4 C152.3 5.8 150.7 5.8 149.5 4.4 L149.0 4.4 C147.8 5.8 146.2 5.8 145.0 4.4 L144.5 4.4 C143.3 5.8 141.7 5.8 140.5 4.4 L140.0 4.4 C138.8 5.8 137.2 5.8 136.0 4.4 L134.5 4.4 C132 4.2 130.5 2.5 131 0 Z"/><path stroke="#1a1918" stroke-width="2" stroke-linecap="round" d="M133.5 0 L177.5 0"/><ellipse fill="#1a1918" cx="138.0" cy="-4.5" rx="1.7" ry="1.3"/><ellipse fill="#1a1918" cx="138.0" cy="4.5" rx="1.7" ry="1.3"/><ellipse fill="#1a1918" cx="142.5" cy="-4.5" rx="1.7" ry="1.3"/><ellipse fill="#1a1918" cx="142.5" cy="4.5" rx="1.7" ry="1.3"/><ellipse fill="#1a1918" cx="147.0" cy="-4.5" rx="1.7" ry="1.3"/><ellipse fill="#1a1918" cx="147.0" cy="4.5" rx="1.7" ry="1.3"/><ellipse fill="#1a1918" cx="151.5" cy="-4.5" rx="1.7" ry="1.3"/><ellipse fill="#1a1918" cx="151.5" cy="4.5" rx="1.7" ry="1.3"/><ellipse fill="#1a1918" cx="156.0" cy="-4.5" rx="1.7" ry="1.3"/><ellipse fill="#1a1918" cx="156.0" cy="4.5" rx="1.7" ry="1.3"/><ellipse fill="#1a1918" cx="160.5" cy="-4.5" rx="1.7" ry="1.3"/><ellipse fill="#1a1918" cx="160.5" cy="4.5" rx="1.7" ry="1.3"/><ellipse fill="#1a1918" cx="165.0" cy="-4.5" rx="1.7" ry="1.3"/><ellipse fill="#1a1918" cx="165.0" cy="4.5" rx="1.7" ry="1.3"/><path fill="#1a1918" stroke="#1a1918" stroke-width="0.8" d="M160 -4.6 C170 -6 180 -10 185.5 -15.4 C185.5 -12 180 -7.5 172 -4.5 Z"/><path fill="#1a1918" stroke="#1a1918" stroke-width="0.8" d="M160 4.6 C170 6 180 10 185.7 15.6 C185.5 12 180 7.5 172 4.5 Z"/><ellipse fill="#fdfcfa" stroke="#1a1918" stroke-width="1.4" cx="201.4" cy="0" rx="2.2" ry="4.4"/><path fill="#1a1918" d="M218.5 -0.3 L225.5 -3.2 L226.77 -3.9 L228.05 -3 L229.32 -3.9 L230.60 -3 L231.87 -3.9 L233.15 -3 L234.42 -3.9 L235.70 -3 L236.97 -3.9 L238.25 -3 L239.52 -3.9 L240.80 -3 L242.07 -3.9 L243.35 -3 L244.62 -3.9 L245.90 -3 L247.17 -3.9 L248.45 -3 L249.72 -3.9 L251.00 -3 L252.27 -3.9 L253.55 -3 L254.82 -3.9 L256.10 -3 L257.37 -3.9 L258.65 -3 L259.92 -3.9 L261.20 -3 L262.47 -3.9 L263.75 -3 L265.02 -3.9 L266.30 -3 L267.57 -3.9 L268.85 -3 L270.12 -3.9 L271.40 -3 L272.67 -3.9 L273.95 -3 L275.22 -3.9 L276.50 -3 L277.77 -3.9 L279.05 -3 L280.32 -3.9 L281.60 -3 L282.87 -3.9 L284.15 -3 L285.42 -3.9 L286.70 -3 L287.97 -3.9 L289.25 -3 L290.52 -3.9 L291.80 -3 L290.53 3.9 L289.25 3 L287.98 3.9 L286.70 3 L285.43 3.9 L284.15 3 L282.88 3.9 L281.60 3 L280.33 3.9 L279.05 3 L277.78 3.9 L276.50 3 L275.23 3.9 L273.95 3 L272.68 3.9 L271.40 3 L270.13 3.9 L268.85 3 L267.58 3.9 L266.30 3 L265.03 3.9 L263.75 3 L262.48 3.9 L261.20 3 L259.93 3.9 L258.65 3 L257.38 3.9 L256.10 3 L254.83 3.9 L253.55 3 L252.28 3.9 L251.00 3 L249.73 3.9 L248.45 3 L247.18 3.9 L245.90 3 L244.63 3.9 L243.35 3 L242.08 3.9 L240.80 3 L239.53 3.9 L238.25 3 L236.98 3.9 L235.70 3 L234.43 3.9 L233.15 3 L231.88 3.9 L230.60 3 L229.33 3.9 L228.05 3 L226.78 3.9 L225.50 3 Z"/><path stroke="#fdfcfa" stroke-opacity="0.75" stroke-width="0.55" d="M226.80 2 L227.80 -2"/><path stroke="#fdfcfa" stroke-opacity="0.75" stroke-width="0.55" d="M229.35 2 L230.35 -2"/><path stroke="#fdfcfa" stroke-opacity="0.75" stroke-width="0.55" d="M231.90 2 L232.90 -2"/><path stroke="#fdfcfa" stroke-opacity="0.75" stroke-width="0.55" d="M234.45 2 L235.45 -2"/><path stroke="#fdfcfa" stroke-opacity="0.75" stroke-width="0.55" d="M237.00 2 L238.00 -2"/><path stroke="#fdfcfa" stroke-opacity="0.75" stroke-width="0.55" d="M239.55 2 L240.55 -2"/><path stroke="#fdfcfa" stroke-opacity="0.75" stroke-width="0.55" d="M242.10 2 L243.10 -2"/><path stroke="#fdfcfa" stroke-opacity="0.75" stroke-width="0.55" d="M244.65 2 L245.65 -2"/><path stroke="#fdfcfa" stroke-opacity="0.75" stroke-width="0.55" d="M247.20 2 L248.20 -2"/><path stroke="#fdfcfa" stroke-opacity="0.75" stroke-width="0.55" d="M249.75 2 L250.75 -2"/><path stroke="#fdfcfa" stroke-opacity="0.75" stroke-width="0.55" d="M252.30 2 L253.30 -2"/><path stroke="#fdfcfa" stroke-opacity="0.75" stroke-width="0.55" d="M254.85 2 L255.85 -2"/><path stroke="#fdfcfa" stroke-opacity="0.75" stroke-width="0.55" d="M257.40 2 L258.40 -2"/><path stroke="#fdfcfa" stroke-opacity="0.75" stroke-width="0.55" d="M259.95 2 L260.95 -2"/><path stroke="#fdfcfa" stroke-opacity="0.75" stroke-width="0.55" d="M262.50 2 L263.50 -2"/><path stroke="#fdfcfa" stroke-opacity="0.75" stroke-width="0.55" d="M265.05 2 L266.05 -2"/><path stroke="#fdfcfa" stroke-opacity="0.75" stroke-width="0.55" d="M267.60 2 L268.60 -2"/><path stroke="#fdfcfa" stroke-opacity="0.75" stroke-width="0.55" d="M270.15 2 L271.15 -2"/><path stroke="#fdfcfa" stroke-opacity="0.75" stroke-width="0.55" d="M272.70 2 L273.70 -2"/><path stroke="#fdfcfa" stroke-opacity="0.75" stroke-width="0.55" d="M275.25 2 L276.25 -2"/><path stroke="#fdfcfa" stroke-opacity="0.75" stroke-width="0.55" d="M277.80 2 L278.80 -2"/><path stroke="#fdfcfa" stroke-opacity="0.75" stroke-width="0.55" d="M280.35 2 L281.35 -2"/><path stroke="#fdfcfa" stroke-opacity="0.75" stroke-width="0.55" d="M282.90 2 L283.90 -2"/><path stroke="#fdfcfa" stroke-opacity="0.75" stroke-width="0.55" d="M285.45 2 L286.45 -2"/><path stroke="#fdfcfa" stroke-opacity="0.75" stroke-width="0.55" d="M288.00 2 L289.00 -2"/><path stroke="#fdfcfa" stroke-opacity="0.75" stroke-width="0.55" d="M290.55 2 L291.55 -2"/><path fill="#fdfcfa" stroke="#1a1918" stroke-width="1.3" stroke-linejoin="round" d="M289 -2.9 L292.3 -3.8 V3.8 L289 2.9 Z"/></g>
<g fill="none" stroke="#1a1918" stroke-linejoin="round">
<rect x="793.5" y="215.5" width="8" height="58" stroke-width="1.3"/>
<rect x="793.3" y="439.2" width="8.4" height="57.5" stroke-width="1.3"/>
<path stroke="#1a1918" stroke-width="3.6" d="M796.2 273.8 C793 282 784 292 782 300 C781.2 303 781 305 781 307.8"/><path stroke="#fdfcfa" stroke-width="1.3" d="M796.2 273.8 C793 282 784 292 782 300 C781.2 303 781 305 781 307.8"/>
<path stroke="#1a1918" stroke-width="3.6" d="M798.8 273.8 C802 282 811 292 813 300 C813.8 303 813.3 305 813.3 307.8"/><path stroke="#fdfcfa" stroke-width="1.3" d="M798.8 273.8 C802 282 811 292 813 300 C813.8 303 813.3 305 813.3 307.8"/>
<path stroke-width="1.1" fill="#fdfcfa" d="M780 307.6 H782.5 V319.5 H780 Z M812 307.6 H814.5 V319.5 H812 Z"/>
<path stroke="#1a1918" stroke-width="3.6" d="M781.7 404.5 V411 C782 419 793 429 797 438.8"/><path stroke="#fdfcfa" stroke-width="1.3" d="M781.7 404.5 V411 C782 419 793 429 797 438.8"/>
<path stroke="#1a1918" stroke-width="3.6" d="M813.3 404.5 V411 C813 419 802 429 798 438.8"/><path stroke="#fdfcfa" stroke-width="1.3" d="M813.3 404.5 V411 C813 419 802 429 798 438.8"/>
<path fill="#fdfcfa" stroke-width="1.5" d="M773.3 336 H793.5 V366 H801.3 V336 H821.8 V404.2 H801.3 V374.5 H793.5 V404.2 H773.3 Z"/>
<circle cx="797.3" cy="370" r="1.7" stroke-width="1.1"/>
<circle cx="783.3" cy="358" r="8" stroke-width="1.3"/>
<circle cx="783.3" cy="358" r="5.9" stroke-width="1.3"/>
<path stroke-width="2.4" d="M783.3 353.6 V362.4"/>
<circle cx="783.3" cy="382" r="8" stroke-width="1.3"/>
<circle cx="783.3" cy="382" r="5.9" stroke-width="1.3"/>
<path stroke-width="2.4" d="M783.3 377.6 V386.4"/>
<circle cx="811.5" cy="358" r="8" stroke-width="1.3"/>
<circle cx="811.5" cy="358" r="5.9" stroke-width="1.3"/>
<path stroke-width="2.4" d="M811.5 353.6 V362.4"/>
<circle cx="811.5" cy="382" r="8" stroke-width="1.3"/>
<circle cx="811.5" cy="382" r="5.9" stroke-width="1.3"/>
<path stroke-width="2.4" d="M811.5 377.6 V386.4"/>
<circle cx="890.1" cy="275.4" r="13.7" stroke-width="1.3"/>
<path stroke-width="1.3" d="M890.1 265.5 V276.6 M879.3 276.6 H900.9 M881.7 279.5 H898.6 M884 282.4 H896.3"/>
<path stroke="#1a1918" stroke-width="3.4" d="M900.6 298.8 C904 306 910 314 913.5 321 C915 324 915.3 327 915.3 333.3"/><path stroke="#fdfcfa" stroke-width="1.2" d="M900.6 298.8 C904 306 910 314 913.5 321 C915 324 915.3 327 915.3 333.3"/>
<path stroke-width="1.1" fill="#fdfcfa" d="M913.9 333.2 H916.7 V345.4 H913.9 Z"/>
<path fill="#fdfcfa" stroke-width="1.4" d="M887.5 361.2 H891.6 V376.4 H887.5 Z M926.8 361.2 H930.7 V376.4 H926.8 Z"/>
<rect fill="#fdfcfa" x="891.6" y="354.2" width="35.2" height="30.3" stroke-width="1.5"/>
<path stroke-width="1" d="M891.6 368.8 H926.8 M909.1 354.2 V384.5"/>
<circle fill="none" cx="909.1" cy="368.8" r="15.6" stroke-width="1.3"/>
<circle fill="none" cx="909.1" cy="368.8" r="13.9" stroke-width="1"/>
<circle fill="#fdfcfa" cx="909.1" cy="368.8" r="10.2" stroke-width="1.3"/>
<circle fill="none" cx="909.1" cy="368.8" r="8.4" stroke-width="1.1"/>
<path fill="#fdfcfa" stroke-width="1.2" d="M907.7 362.6 H910.5 V367.4 H915.3 V370.2 H910.5 V375 H907.7 V370.2 H902.9 V367.4 H907.7 Z"/>
<rect fill="#fdfcfa" x="892" y="384.5" width="34.7" height="8.8" stroke-width="1.3"/>
<path stroke-width="2.2" d="M892 387.9 H926.7"/>
<path stroke-width="1.2" d="M892 391.2 H926.7"/>
<path fill="#fdfcfa" stroke-width="1.6" d="M876.7 396.3 C876.7 394.3 877.8 393.3 879.7 393.3 H939.1 C941 393.3 942.1 394.3 942.1 396.3 V441.5 A32.7 32.7 0 0 1 876.7 441.5 Z"/>
<path stroke-width="1.5" d="M877 396.2 H941.8"/>
<circle cx="909.2" cy="443.75" r="20.3" stroke-width="1.5"/>
<circle cx="893.2" cy="409.2" r="7.8" stroke-width="2"/>
<path stroke-width="1.1" d="M893.2 404.6 V409.3 M887.6 409.3 H898.8"/>
<path fill="#1a1918" stroke="none" d="M888.2 409.3 H898.2 C897.5 412 895.5 413.3 893.2 413.3 C890.9 413.3 888.9 412 888.2 409.3 Z"/>
<path fill="#fdfcfa" stroke="none" d="M890 410.2 H896.4 C895.8 411.5 894.6 412 893.2 412 C891.8 412 890.6 411.5 890 410.2 Z"/>
</g>
<g font-family="Liberation Sans, sans-serif" fill="#111" stroke="#111" stroke-width="0.35" font-size="13">
<text x="765.2" y="331.5">N</text>
<text x="819.6" y="331.5">L</text>
<text x="765.2" y="422">N</text>
<text x="819.6" y="422">L</text>
</g>
<g fill="none" stroke="#161514" stroke-linejoin="round" stroke-linecap="round">
<path stroke-width="1.3" d="M713.8 636.19 L812.3 709.91"/>
<path stroke-width="1.3" d="M713.8 671.13 L812.3 744.62"/>
<path stroke-width="1.3" d="M713.8 706.07 L812.3 779.33"/>
<path stroke-width="1.3" d="M713.8 741.01 L812.3 814.04"/>
<path stroke-width="1.3" d="M713.8 775.95 L812.3 848.75"/>
<path stroke-width="1.3" d="M713.8 810.89 L812.3 883.46"/>
<path stroke-width="1.3" d="M713.8 845.83 L812.3 918.17"/>
<path stroke-width="1.3" d="M762.5 637.81 V672.64"/>
<path stroke-width="1.3" d="M738.6 654.75 V689.63"/>
<path stroke-width="1.3" d="M787.3 691.20 V725.97"/>
<path stroke-width="1.3" d="M762.5 707.46 V742.29"/>
<path stroke-width="1.3" d="M738.6 724.52 V759.40"/>
<path stroke-width="1.3" d="M787.3 760.74 V795.50"/>
<path stroke-width="1.3" d="M762.5 777.12 V811.94"/>
<path stroke-width="1.3" d="M738.6 794.28 V829.16"/>
<path stroke-width="1.3" d="M787.3 830.27 V865.04"/>
<path stroke-width="1.3" d="M762.5 846.77 V881.60"/>
<path stroke-width="1.3" d="M738.6 864.04 V898.93"/>
<path stroke-width="1.3" d="M787.3 899.81 V934.58"/>
<path stroke-width="1.6" d="M713.8 601.25 L727 597.5 L825.3 671.8 L825.3 950.6 L812.3 953 L713.6 880.8 Z"/>
<path stroke-width="1.5" d="M713.8 601.25 L812.3 675.2 L825.3 671.8 M812.3 675.2 V953"/>
<path fill="#161514" stroke="none" d="M825.5 700.2 H831.5 V712.0 H825.5 Z"/>
<path fill="#161514" stroke="#161514" stroke-width="1" d="M830.5 699.4 C836.5 698.8000000000001 840.3 701.6 840.3 705.4 C840.3 709.2 837 711.2 830.5 711.2 Z"/>
<path fill="none" stroke="#fdfcfa" stroke-width="1.5" stroke-linecap="round" d="M831.7 701.8000000000001 C833 703.6 833 707.1 831.7 709.2 M836.1 701.5 C837.9 703.4 838.1 707.4 836.3 709.6"/>
<path stroke="#fdfcfa" stroke-width="0.6" stroke-opacity="0.7" d="M827 702.6 V709.6 M829.2 702.1 V710.1"/>
<path fill="#161514" stroke="none" d="M825.5 804.8000000000001 H831.5 V816.6 H825.5 Z"/>
<path fill="#161514" stroke="#161514" stroke-width="1" d="M830.5 804.0 C836.5 803.4000000000001 840.3 806.2 840.3 810.0 C840.3 813.8000000000001 837 815.8000000000001 830.5 815.8000000000001 Z"/>
<path fill="none" stroke="#fdfcfa" stroke-width="1.5" stroke-linecap="round" d="M831.7 806.4000000000001 C833 808.2 833 811.7 831.7 813.8000000000001 M836.1 806.1 C837.9 808.0 838.1 812.0 836.3 814.2"/>
<path stroke="#fdfcfa" stroke-width="0.6" stroke-opacity="0.7" d="M827 807.2 V814.2 M829.2 806.7 V814.7"/>
<path fill="#fdfcfa" stroke="none" d="M598.3 699.7 L621 694.8 L661 726 L661 907.9 L655.9 907.9 L655.9 742.2 Z"/>
<path stroke-width="1.5" d="M598.3 699.9 L621 694.9 L661 725.6 V907.9 H655.9 M641.7 730.3 L661 725.6"/>
<path stroke-width="1.5" d="M641.7 712.7 L720 694.7"/>
<path stroke-width="1.5" d="M661 884.1 L725.8 869.5"/>
<ellipse stroke-width="1.3" cx="622.5" cy="714.5" rx="4.3" ry="2"/>
<path stroke-width="1.1" d="M622 695 V715"/>
<path fill="#161514" stroke="none" d="M615.3 677.5 H628.3 V691 C628.3 694 625.5 695 621.8 695 C618 695 615.3 694 615.3 691 Z"/>
<path fill="#fdfcfa" stroke-width="1.6" d="M611.3 674.5 C611 668 615.5 664.8 621.8 664.8 C628 664.8 632.8 668 632.5 674.5 C632.3 677.5 628 679 621.8 679 C615.5 679 611.5 677.5 611.3 674.5 Z"/>
<path stroke-width="1.2" d="M611.8 673.5 C614 675.5 617.5 676 621.8 676 C626 676 630 675.5 632 673.5"/>
<path stroke-width="1" d="M618.5 668.5 L625 670.5 M622.5 667 L621 672"/>
<path fill="#fdfcfa" stroke-width="1.7" d="M317.6 702.5 L535.7 653 L655.9 742.2 V969.2 L438 1018.7 L317.6 929 Z"/>
<path stroke-width="1.7" d="M317.6 702.5 L438 791.7 L655.9 742.2 M438 791.7 V1018.7"/>
<path stroke-width="1.6" d="M331.7 704.2 L531.7 658.8 L641.7 740.6 L441.7 786 Z"/>
<path fill="#fdfcfa" stroke-width="1.5" d="M719.3 692 C719.5 688 721 685.8 724 685 L749.3 679.3 C751 679 752 679.2 753.3 680 L775.3 696 C776.5 697 777 698 776.7 699 L774.2 699.3 V861.3 C776 862.5 776.5 864 775.5 865.5 C774 867 772 867.5 771.3 867.6 L745 874.3 C741 875 737 874.5 734 873 L722 865.5 C720 864 719.5 862 720 859.5 C720.5 857 722 855 724.7 853.75 L750.35 848.5 L752 848.2 V704 L748.7 704.3 C745 704.5 741 704.3 738 703.5 C733 702 727 698 721.3 694.7 C720 694 719.4 693 719.3 692 Z"/>
<path stroke-width="1.4" d="M720 692.7 C723 695 727 697.5 730 699.3 C733 701 736 702 739.3 702 L748.7 701.7 L774 696"/>
<path stroke-width="1.1" d="M750.7 681.3 L775.3 698 M752 704 L774.2 699"/>
<ellipse stroke-width="1.2" cx="748" cy="690.3" rx="4.2" ry="2"/>
<path stroke-width="1.4" d="M720 694.7 L744 690.1"/>
<path stroke-width="1.4" d="M722.3 864.8 C725 867 729 869 734 870.7 C737 871.5 740 871.6 743.3 871.3 L771.3 864.8 C773.5 864 775.5 862.8 776 861.3"/>
<path stroke-width="1.1" d="M752.7 848.5 L772.5 863.7"/>
<ellipse stroke-width="1.2" cx="748" cy="860.2" rx="4.2" ry="2"/>
<g transform="rotate(-14 762.8 720.9)">
<ellipse stroke-width="2" cx="762.8" cy="720.9" rx="5.6" ry="9.6"/>
<ellipse stroke-width="1.1" cx="762.0999999999999" cy="720.6" rx="3.9" ry="7.3"/>
<path stroke-width="1.4" d="M762.0999999999999 716.4 V724.9 M759.8 720.9 H764.4"/>
</g>
<g transform="rotate(-14 762.2 825.2)">
<ellipse stroke-width="2" cx="762.2" cy="825.2" rx="5.6" ry="9.6"/>
<ellipse stroke-width="1.1" cx="761.5" cy="824.9000000000001" rx="3.9" ry="7.3"/>
<path stroke-width="1.4" d="M761.5 820.7 V829.2 M759.2 825.2 H763.8000000000001"/>
</g>
</g>

</svg></body></html>
